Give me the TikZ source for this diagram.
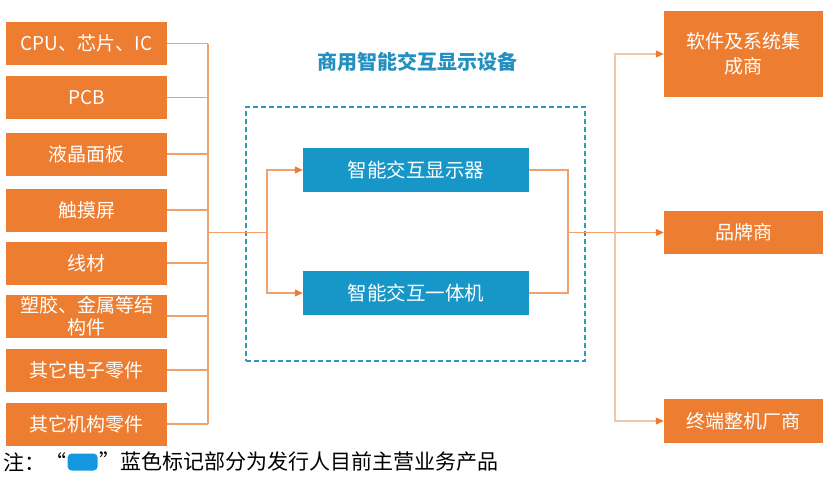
\documentclass[tikz,border=0pt]{standalone}
\usepackage{fontspec}
\setmainfont{Noto Sans CJK SC}
\usetikzlibrary{positioning,arrows.meta}
\definecolor{partorange}{HTML}{ED7D31}
\definecolor{prodblue}{HTML}{1796C8}
\definecolor{framecol}{HTML}{2A9BBE}
\definecolor{linkcol}{HTML}{F2A16C}
\definecolor{buscol}{HTML}{EDC7A8}
\definecolor{tipcol}{HTML}{EE7A33}
\definecolor{titlecol}{HTML}{2490BF}
\definecolor{markcol}{HTML}{1597E0}

\begin{document}
\begin{tikzpicture}[x=1pt,y=-1pt,
    part/.style={fill=partorange,text=white,inner sep=0pt,align=center,
      minimum width=161pt,minimum height=43pt,font=\fontsize{19}{22}\selectfont},
    client/.style={part,minimum width=159pt},
    prod/.style={fill=prodblue,text=white,inner sep=0pt,
      minimum width=226pt,minimum height=44pt,font=\fontsize{19.5}{23}\selectfont},
    group/.style={draw=framecol,line width=1.6pt,dash pattern=on 5pt off 3pt,
      minimum width=339pt,minimum height=254pt,inner sep=0pt},
    link/.style={draw=linkcol,line width=1.1pt},
    arrow/.style={link,-{Triangle[length=8pt,width=7pt,color=tipcol]}},
    note/.style={inner sep=0pt,font=\fontsize{21}{24}\selectfont}]
    \useasboundingbox (0,0) rectangle (835,477);
    % parts
    \node[part] (p1) at (86.5,43.5) {CPU、芯片、IC};
    \node[part] (p2) at (86.5,97.5) {PCB};
    \node[part] (p3) at (86.5,154) {液晶面板};
    \node[part] (p4) at (86.5,210) {触摸屏};
    \node[part] (p5) at (86.5,263) {线材};
    \node[part] (p6) at (86.5,316) {塑胶、金属等结\\构件};
    \node[part] (p7) at (86.5,370) {其它电子零件};
    \node[part] (p8) at (86.5,424) {其它机构零件};
    % products
    \node[group] (grp) at (415.5,234) {};
    \node[font=\fontsize{20}{24}\selectfont\bfseries,text=titlecol] (ttl) at (417,62) {商用智能交互显示设备};
    \node[prod] (d1) at (416,170) {智能交互显示器};
    \node[prod] (d2) at (416,293) {智能交互一体机};
    % clients
    \node[client,minimum height=86pt,font=\fontsize{19}{25}\selectfont] (c1) at (743.5,54) {软件及系统集\\成商};
    \node[client] (c2) at (743.5,232.5) {品牌商};
    \node[client,minimum height=44pt] (c3) at (743.5,421) {终端整机厂商};
    % connectors
    \coordinate (busL) at (208,232.5);
    \coordinate (fork) at (267,232.5);
    \coordinate (join) at (568,232.5);
    \coordinate (busR) at (615,232.5);
    \draw[link] (p1.east) -- (p1.east -| busL);
    \draw[link] (p2.east) -- (p2.east -| busL);
    \draw[link] (p3.east) -- (p3.east -| busL);
    \draw[link] (p4.east) -- (p4.east -| busL);
    \draw[link] (p5.east) -- (p5.east -| busL);
    \draw[link] (p6.east) -- (p6.east -| busL);
    \draw[link] (p7.east) -- (p7.east -| busL);
    \draw[link] (p8.east) -- (p8.east -| busL);
    \draw[link] (p1.east -| busL) -- (p8.east -| busL);
    \draw[link] (busL) -- (fork);
    \draw[arrow] (fork) |- (d1.west);
    \draw[arrow] (fork) |- (d2.west);
    \draw[link] (d1.east) -| (join);
    \draw[link] (d2.east) -| (join);
    \draw[arrow] (join) -- (c2.west);
    \draw[arrow,draw=buscol] (busR) |- (c1.west);
    \draw[arrow,draw=buscol] (busR) |- (c3.west);
    % note
    \node[note,anchor=west] (n1) at (3,462) {注：“};
    \node[fill=markcol,rounded corners=4pt,minimum width=30pt,minimum height=17pt,
      inner sep=0pt,right=1pt of n1] (mk) {};
    \node[note,right=1pt of mk] (n2) {”蓝色标记部分为发行人目前主营业务产品};
\end{tikzpicture}
\end{document}
